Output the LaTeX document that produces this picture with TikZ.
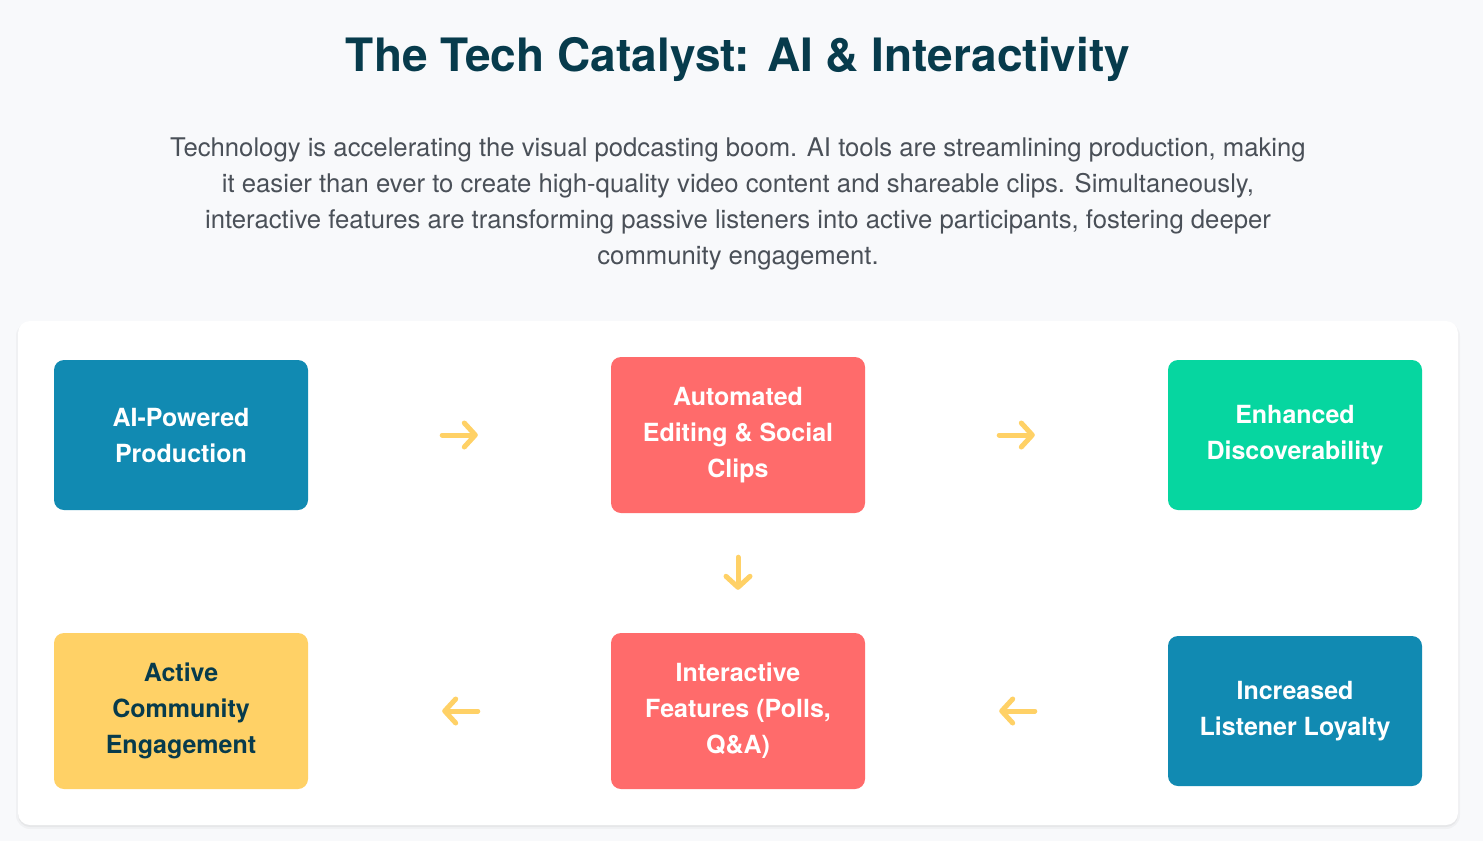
\documentclass[tikz,border=0pt]{standalone}
\usepackage{fontspec}
\setmainfont{TeX Gyre Heros}
\usetikzlibrary{arrows.meta}
\definecolor{pagebg}{HTML}{F8F9FB}
\definecolor{ink}{HTML}{073B4C}
\definecolor{bodytext}{HTML}{4A5058}
\definecolor{ocean}{HTML}{118AB2}
\definecolor{coral}{HTML}{FF6B6B}
\definecolor{mint}{HTML}{06D6A0}
\definecolor{sun}{HTML}{FFD166}

\begin{document}
\begin{tikzpicture}[x=1pt, y=-1pt]
		\begin{scope}
		\tikzstyle{every node}=[align=center, inner sep=0pt]
		\tikzstyle{card}=[rounded corners=10pt, minimum width=254pt, text=white, font=\bfseries\fontsize{25}{36}\selectfont]
		\tikzstyle{flow}=[draw=sun, line width=5pt, line cap=round, -{Straight Barb[length=11pt, width=24pt, round]}]
				\fill[pagebg] (0, 0) rectangle (1483, 841);
				\useasboundingbox (0, 0) rectangle (1483, 841);
				\fill[black, opacity=0.03, rounded corners=14pt] (16, 322) rectangle (1460, 829);
				\fill[black, opacity=0.04, rounded corners=12pt] (18, 322) rectangle (1458, 827);
				\fill[white, rounded corners=12pt] (18, 321) rectangle (1458, 825);
			
				\node[text=ink, font=\bfseries\fontsize{46}{48}\selectfont, anchor=base] (T) at (738, 71) {The Tech Catalyst: AI \& Interactivity};
				\node[text=bodytext, font=\fontsize{25.7}{36}\selectfont] (P) at (738, 204) {Technology is accelerating the visual podcasting boom. AI tools are streamlining production, making \\ it easier than ever to create high-quality video content and shareable clips. Simultaneously, \\ interactive features are transforming passive listeners into active participants, fostering deeper \\ community engagement.};
			
				\node[card, fill=ocean, minimum height=150pt] (AP) at (181, 435) {AI-Powered \\ Production};
				\node[card, fill=coral, minimum height=156pt] (AE) at (738, 435) {Automated \\ Editing \& Social \\ Clips};
				\node[card, fill=mint, minimum height=150pt] (ED) at (1295, 435) {Enhanced \\ Discoverability};
				\node[card, fill=sun, minimum height=156pt, text=ink] (AC) at (181, 711) {Active \\ Community \\ Engagement};
				\node[card, fill=coral, minimum height=156pt] (IF) at (738, 711) {Interactive \\ Features (Polls, \\ Q\&A)};
				\node[card, fill=ocean, minimum height=150pt] (LL) at (1295, 711) {Increased \\ Listener Loyalty};
			
				\draw[flow, shorten <=134pt, shorten >=133pt]  (AP.east) -- (AE.west);
				\draw[flow, shorten <=134pt, shorten >=133pt]  (AE.east) -- (ED.west);
				\draw[flow, shorten <=44pt, shorten >=43pt]  (AE.south) -- (IF.north);
				\draw[flow, shorten <=133pt, shorten >=134pt]  (LL.west) -- (IF.east);
				\draw[flow, shorten <=133pt, shorten >=134pt]  (IF.west) -- (AC.east);
		\end{scope}
	\end{tikzpicture}
\end{document}
